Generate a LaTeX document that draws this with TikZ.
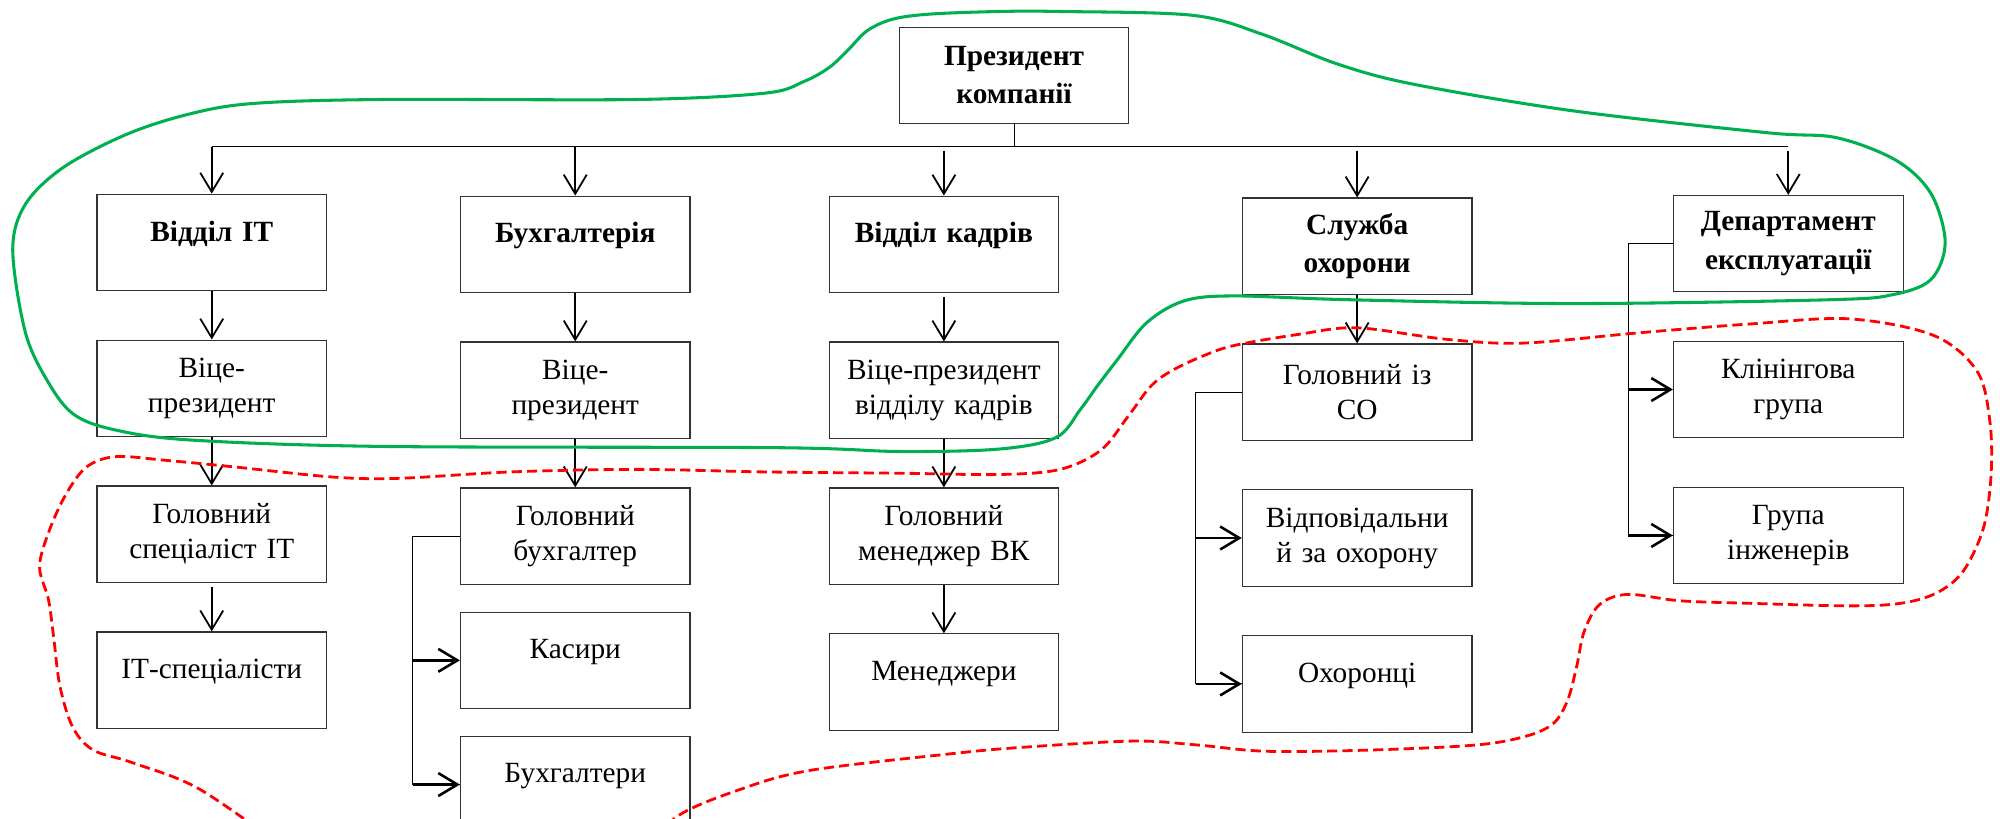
\documentclass[tikz,border=0pt]{standalone}
\usepackage{fontspec}
\setmainfont{Liberation Serif}
\usetikzlibrary{positioning,arrows.meta}

\definecolor{loopgreen}{HTML}{00B050}
\definecolor{loopred}{HTML}{FF0000}

\begin{document}
\begin{tikzpicture}[x=0.5pt,y=-0.5pt,>={Straight Barb[length=7.5pt,width=9pt]},
                    node distance=19pt]
  \tikzstyle{unit}=[draw=black!80,line width=0.45pt,minimum width=90pt,minimum height=37.75pt,
                    text width=86pt,align=center,inner sep=1pt,
                    font=\fontsize{11.5}{13.75}\selectfont]
  \tikzstyle{head}=[unit,font=\fontsize{11.5}{15}\selectfont\bfseries]
  \tikzstyle{oneline}=[text depth=9pt]
  \tikzstyle{link}=[->,line width=0.7pt]
  \tikzstyle{stub}=[->,line width=1pt]
  \tikzstyle{wire}=[line width=0.4pt]

  \path[use as bounding box,clip] (0,0) rectangle (1568,642);

  % top level
  \node[head]         (pres)  at (795,59)    {Президент\\компанії};
  \node[head,oneline] (it)    at (166,190)   {Відділ ІТ};
  \node[head,oneline] (buh)   at (451,191.5) {Бухгалтерія};
  \node[head,oneline] (kadr)  at (740,191.5) {Відділ кадрів};
  \node[head]         (sluzh) at (1064,193)  {Служба\\охорони};
  \node[head]         (dep)   at (1402,191)  {Департамент\\експлуатації};

  % IT
  \node[unit]         (itvp)    [below=of it]     {Віце-\\президент};
  \node[unit]         (itgol)   [below=of itvp]   {Головний\\спеціаліст ІТ};
  \node[unit,oneline] (itstaff) [below=of itgol]  {ІТ-спеціалісти};

  % accounting
  \node[unit]         (buhvp)    [below=of buh]           {Віце-\\президент};
  \node[unit]         (buhgol)   [below=of buhvp]         {Головний\\бухгалтер};
  \node[unit,oneline] (kasyry)   [below=10.5pt of buhgol] {Касири};
  \node[unit,oneline] (buhstaff) [below=10.5pt of kasyry] {Бухгалтери};

  % personnel
  \node[unit]         (kadrvp)    [below=of kadr]    {Віце-президент\\відділу кадрів};
  \node[unit]         (kadrgol)   [below=of kadrvp]  {Головний\\менеджер ВК};
  \node[unit,oneline] (kadrstaff) [below=of kadrgol] {Менеджери};

  % security
  \node[unit]         (sogol)   [below=of sluzh]  {Головний із\\СО};
  \node[unit]         (sovidp)  [below=of sogol]  {Відповідальни\\й за охорону};
  \node[unit,oneline] (soguard) [below=of sovidp] {Охоронці};

  % maintenance
  \node[unit] (klin) [below=of dep]  {Клінінгова\\група};
  \node[unit] (inzh) [below=of klin] {Група\\інженерів};

  % bus from the president
  \coordinate (busl) at (166,115);
  \coordinate (busr) at (1402,115);
  \draw[wire] (pres) -- (pres |- busl);
  \draw[wire] (busl) -- (busr);
  \draw[link] (busl) -- (it);
  \draw[link] (buh |- busl) -- (buh);
  \draw[link,shorten <=1.5pt] (kadr |- busl) -- (kadr);
  \draw[link,shorten <=1.5pt] (sluzh |- busl) -- (sluzh);
  \draw[link,shorten <=1.5pt] (dep |- busl) -- (dep);

  % chains
  \draw[link] (it) -- (itvp);
  \draw[link] (itvp) -- (itgol);
  \draw[link,shorten <=1.5pt] (itgol) -- (itstaff);
  \draw[link] (buh) -- (buhvp);
  \draw[link] (buhvp) -- (buhgol);
  \draw[link,shorten <=1.5pt] (kadr) -- (kadrvp);
  \draw[link] (kadrvp) -- (kadrgol);
  \draw[link] (kadrgol) -- (kadrstaff);
  \draw[link] (sluzh) -- (sogol);

  % side brackets
  \draw[wire] (buhgol.west) -- ++(-37,0) coordinate (buhbar) |- (buhstaff.west);
  \draw[stub] (buhbar |- kasyry.west) -- (kasyry.west);
  \draw[stub] (buhbar |- buhstaff.west) -- (buhstaff.west);

  \draw[wire] (sogol.west) -- ++(-36,0) coordinate (sobar) |- (soguard.west);
  \draw[stub] (sobar |- sovidp.west) -- (sovidp.west);
  \draw[stub] (sobar |- soguard.west) -- (soguard.west);

  \draw[wire] (dep.west) -- ++(-35,0) coordinate (depbar) |- (inzh.west);
  \draw[stub] (depbar |- klin.west) -- (klin.west);
  \draw[stub] (depbar |- inzh.west) -- (inzh.west);

  % outlines
  \draw[loopgreen,line width=1.2pt] plot[smooth cycle,tension=0.55] coordinates {
    (10,196) (20,160) (50,131) (100,105) (150,89) (200,81) (300,78) (500,78)
    (600,73) (630,64) (650,53) (665,39) (680,24) (700,15) (730,11) (784,9)
    (830,9) (935,12) (990,27) (1048,50) (1108,66) (1234,87) (1385,104)
    (1440,108) (1487,126) (1514,152) (1525,190) (1514,219) (1484,231)
    (1434,235) (1234,238) (1058,235) (967,232) (928,236) (899,253) (876,282)
    (860,303) (847,321) (828,343) (784,352) (706,354) (610,351) (300,350)
    (150,345) (90,337) (58,325) (38,300) (20,261)};

  \draw[loopred,line width=1.1pt,dash pattern=on 4pt off 2pt] plot[smooth,tension=0.55] coordinates {
    (230,670) (157,619) (104,598) (73,588) (57,570) (47,538) (42,499) (38,470)
    (31,444) (39,415) (52,387) (68,366) (91,358) (131,361) (183,366) (261,374)
    (313,375) (400,370) (500,368) (600,370) (706,371) (784,372) (831,368)
    (863,353) (884,327) (902,303) (918,291) (941,280) (967,271) (1019,262)
    (1064,257) (1134,266) (1194,269) (1284,261) (1372,254) (1450,250)
    (1516,263) (1550,291) (1560,330) (1561,372) (1555,414) (1539,448)
    (1518,465) (1490,473) (1450,475) (1372,473) (1317,471) (1276,466)
    (1254,474) (1242,495) (1236,523) (1229,549) (1218,567) (1197,577)
    (1158,584) (1075,588) (993,589) (938,584) (888,581) (800,586) (745,591)
    (635,604) (580,619) (531,640) (505,670)};
\end{tikzpicture}
\end{document}
